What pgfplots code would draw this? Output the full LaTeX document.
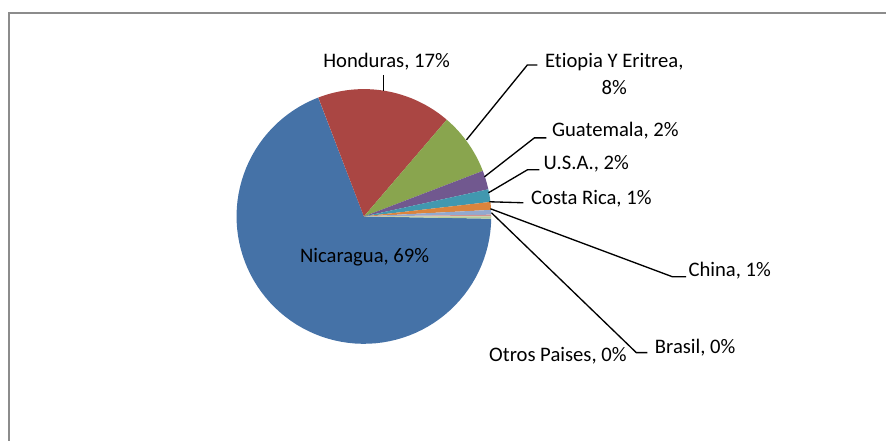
\documentclass[border=0pt]{standalone}
\usepackage{pgfplots}
\pgfplotsset{compat=1.18}
\usepackage{pgfplotstable}
\usepackage{fontspec}
\setmainfont{Carlito}[Ligatures=NoCommon]

\definecolor{cNic}{HTML}{4572A7}
\definecolor{cHon}{HTML}{AA4643}
\definecolor{cEti}{HTML}{89A54E}
\definecolor{cGua}{HTML}{71588F}
\definecolor{cUSA}{HTML}{4198AF}
\definecolor{cCR}{HTML}{DB843D}
\definecolor{cChi}{HTML}{93A9CF}
\definecolor{cBra}{HTML}{D19392}
\definecolor{cOtr}{HTML}{B9CD96}
\definecolor{frame}{HTML}{8C8C8C}

\pgfplotstableread{
country value
Nicaragua 68.9
Honduras 17.1
Etiopia 7.9
Guatemala 2.4
USA 1.6
CostaRica 1.0
China 0.6
Brasil 0.2
Otros 0.3
}\piedata

\newcommand\slice[2]{%
  \edef\sa{\csname sA#1\endcsname}\edef\ea{\csname eA#1\endcsname}%
  \edef\doslice{\noexpand\addplot[draw=none,fill=#2,variable=\noexpand\t,samples at={0,0.0125,...,1,1.5}]
    ({ifthenelse(\noexpand\t>1.01,364.3,364.3+127.5*cos((\sa)+((\ea)-(\sa))*\noexpand\t))},
     {ifthenelse(\noexpand\t>1.01,216.7,216.7-127.5*sin((\sa)+((\ea)-(\sa))*\noexpand\t))});}%
  \doslice}

\begin{document}
\def\cumangle{-1.0}%
\pgfplotsforeachungrouped \i in {0,...,8}{%
  \pgfplotstablegetelem{\i}{value}\of\piedata
  \pgfmathsetmacro\nextangle{\cumangle-3.6*\pgfplotsretval}%
  \expandafter\xdef\csname sA\i\endcsname{\cumangle}%
  \expandafter\xdef\csname eA\i\endcsname{\nextangle}%
  \xdef\cumangle{\nextangle}%
}%
\fontsize{15.5pt}{20pt}\selectfont
\begin{tikzpicture}
\begin{axis}[
  width=665.25pt, height=330.75pt, scale only axis,
  xmin=0, xmax=887, ymin=0, ymax=441, y dir=reverse,
  hide axis, clip=false]
\addplot[draw=none] coordinates {(0,0) (887,441)};
% frame
\addplot[color=frame, line width=1.5pt] coordinates {(9,441) (9,13) (887,13)};
% slices
\slice{0}{cNic}
\slice{1}{cHon}
\slice{2}{cEti}
\slice{3}{cGua}
\slice{4}{cUSA}
\slice{5}{cCR}
\slice{6}{cChi}
\slice{7}{cBra}
\slice{8}{cOtr}
% leader lines
\addplot[black, line width=1pt] coordinates {(384,75) (384,91)};
\addplot[black, line width=1pt] coordinates {(467,140) (528,65) (538,65)};
\addplot[black, line width=1pt] coordinates {(485,177) (535,138) (547,138)};
\addplot[black, line width=1pt] coordinates {(489,193) (528,170) (540,170)};
\addplot[black, line width=1pt] coordinates {(490,202) (524,203)};
\addplot[black, line width=1pt] coordinates {(491,209) (673,277) (687,277)};
\addplot[black, line width=1pt] coordinates {(492,213) (637,353) (648,353)};
% labels
\node at (axis cs:365,257.5) {Nicaragua, 69\%};
\node at (axis cs:387,62) {Honduras, 17\%};
\node[align=center] at (axis cs:615,74) {Etiopia Y Eritrea,\\8\%};
\node at (axis cs:616,131) {Guatemala, 2\%};
\node at (axis cs:587,164) {U.S.A., 2\%};
\node at (axis cs:592,199) {Costa Rica, 1\%};
\node[anchor=west, inner sep=0pt] at (axis cs:689,271) {China, 1\%};
\node at (axis cs:696,348) {Brasil, 0\%};
\node at (axis cs:558.5,356) {Otros Paises, 0\%};
\end{axis}
\end{tikzpicture}
\end{document}
